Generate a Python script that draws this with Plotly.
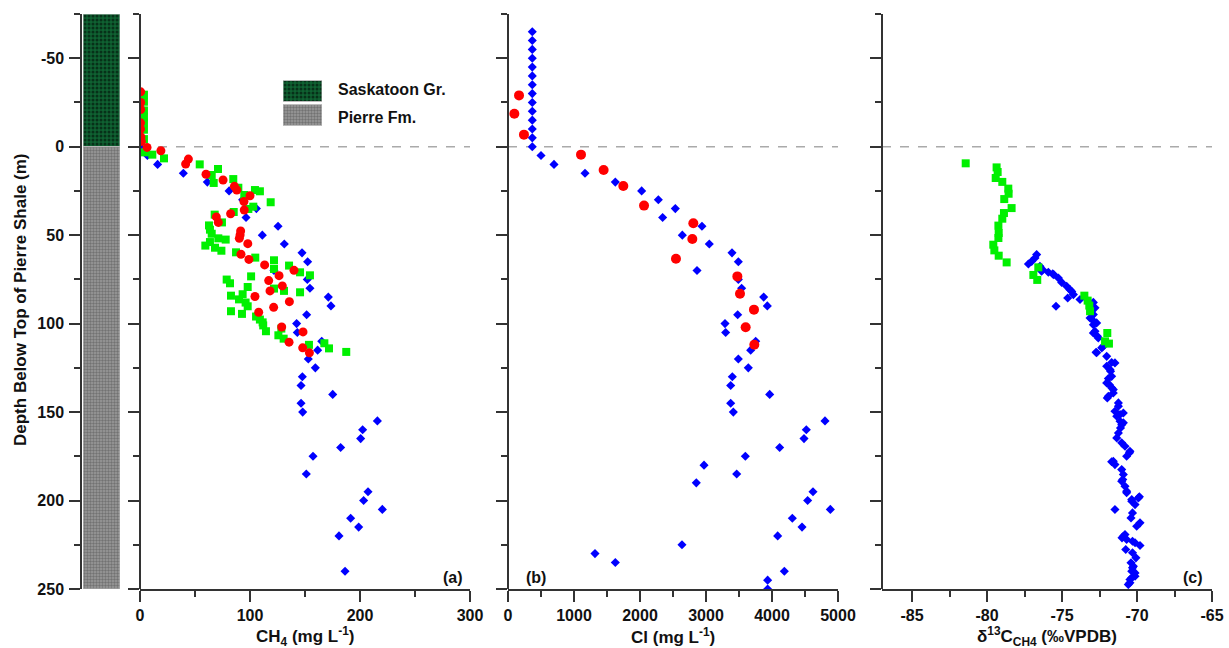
import plotly.graph_objects as go

W, H = 1229, 648
FONT = "Liberation Sans, Arial, sans-serif"

# ---------------- data ----------------
# Panel (a) CH4 (mg/L)
ch4_red_depth = [-31, -25, -21, -13.5, -10, -5.5, -3, 0.4, 2.3, 7, 9.8, 15.6, 18.8, 22.4, 24.5, 27.7, 31, 35.8,
                 37.9, 39.7, 42.8, 47.6, 49.9, 51.8, 54.8, 60.8, 63.7, 66.8, 69.9, 72.9, 75.7, 78.7, 81.5, 84.7,
                 87.6, 90.8, 93.6, 101.9, 104.7, 110.5, 113.7, 116.5]
ch4_red = [0.6, 0.6, 0.6, 0.5, 0.5, 0.8, 1.2, 6.4, 19, 44, 41.5, 60, 75.5, 85.8, 88, 100, 94.5, 94.8,
           82.4, 69.4, 71.2, 91.5, 91, 90.3, 98, 91.8, 99, 113.3, 140, 126.4, 117, 129.4, 118.2, 104.5,
           135.8, 121.5, 107.9, 128.8, 148.2, 135.5, 147.9, 154]

ch4_green_depth = [-29.4, -25.4, -20.5, -16.6, -13.7, -9.6, -4.3, 3.2, 4.5, 6.6, 10, 12.6, 16, 18.3, 20.5, 23.2,
                   24.5, 25.2, 27.3, 31.4, 33.9, 35.2, 36.9, 38.4, 42.8, 44.5, 46.9, 49.2, 51.8, 52.5, 53.9, 55.9,
                   57.1, 58.8, 59.7, 62.7, 64.2, 67.2, 69.1, 71, 72.7, 73.3, 75.1, 77.2, 79.3, 80.2, 81.5, 82.3,
                   83.4, 84.2, 86.3, 88.1, 90.2, 93, 94.5, 96, 97.7, 99.3, 101, 102.8, 104.3, 106.6, 108.5, 111.1,
                   112, 114, 116]
ch4_green = [3.6, 3.6, 3.6, 3.6, 3.6, 3.6, 3.6, 4.5, 11.2, 21.8, 54.3, 70.9, 65.2, 84.8, 67, 89.4,
             104.5, 109, 94.8, 118.8, 103, 98.5, 85.2, 67.9, 74.5, 62.7, 63.6, 65.2, 71.2, 77.9, 63.6, 59.4,
             68.2, 74, 87.3, 104.8, 121.8, 135.5, 121.8, 145.5, 154.5, 101, 78.8, 81.8, 97.9, 121.8, 130.9, 145.5,
             93.3, 82.7, 90, 96, 97.9, 82.7, 92.7, 105.5, 109, 111.5, 112, 128.5, 114.5, 125.8, 130.6, 167.6,
             153.6, 171.8, 187.5]

ch4_blue_depth = [-15, -5, 0, 5, 10, 15, 20, 25, 30, 35, 40, 45, 50, 55, 60, 65, 70, 75, 80, 85, 90, 95, 100,
                  105, 110, 115, 120, 125, 130, 135, 140, 145, 150, 155, 160, 165, 170, 175, 185, 195, 200, 205,
                  210, 215, 220, 240]
ch4_blue = [0.3, 0.3, 0, 6.7, 16, 39.4, 61.2, 81, 93.3, 105.8, 96.4, 125.5, 111.2, 131.2, 147.3, 152.4, 121.8,
            152.1, 154.5, 171.2, 173.6, 151.5, 142.4, 143, 165.2, 161.5, 153, 159.4, 147.6, 146.4, 175.2, 146.4,
            147.9, 215.8, 202.4, 200.6, 182.4, 157.3, 151.2, 207.3, 203.3, 220.3, 191.5, 198.8, 180.9, 186.4]

# Panel (b) Cl (mg/L)
cl_blue_depth = [-65, -60, -55, -50, -45, -40, -35, -30, -25, -20, -15, -10, -5, 0,
                 5, 10, 15, 20, 25, 30, 35, 40, 45, 50, 55, 60, 65, 70, 75, 80, 85, 90, 95, 100, 105, 110, 115,
                 120, 125, 130, 135, 140, 145, 150, 155, 160, 165, 170, 175, 180, 185, 190, 195, 200, 205, 210,
                 215, 220, 225, 230, 235, 240, 245, 250]
cl_blue = [368, 368, 368, 368, 368, 368, 368, 368, 368, 368, 368, 368, 368, 368,
           500, 697, 1167, 1626, 2025, 2278, 2535, 2343, 2939, 2641, 3050, 3394, 3490, 2864, 3490, 3540, 3874,
           3929, 3480, 3288, 3298, 3753, 3677, 3490, 3641, 3399, 3374, 3965, 3374, 3414, 4803, 4520, 4485, 4116,
           3596, 2970, 3465, 2853, 4621, 4540, 4884, 4308, 4455, 4086, 2636, 1318, 1626, 4187, 3934, 3934]

cl_red_depth = [-29, -18.6, -6.8, 4.5, 13.2, 22.2, 33.3, 43.3, 52.2, 63.3, 73.3, 83.1, 92.1, 102.1, 111.9]
cl_red = [167, 96, 242, 1106, 1449, 1747, 2061, 2808, 2793, 2545, 3475, 3515, 3727, 3601, 3732]

# Panel (c) d13C-CH4 (permil VPDB)
d13c_green_depth = [9.4, 11.7, 14.3, 17.7, 19.9, 23.7, 26.6, 29.6, 34.7, 37.5, 40.7, 44.6, 48.8, 51.6, 55.4,
                    58.6, 61.6, 65.4, 68.2, 72.5, 75.3, 84.2, 87, 89.8, 93, 105.3, 110, 111.3]
d13c_green = [-81.42, -79.36, -79.29, -79.42, -78.98, -78.58, -78.56, -78.85, -78.36, -78.87, -78.98, -79.24,
              -79.22, -79.24, -79.58, -79.51, -79.22, -78.69, -76.58, -76.91, -76.65, -73.51, -73.29, -73.18,
              -73.13, -71.98, -72.13, -71.87]

d13c_blue_depth = [61.0, 62.9, 64.8, 66.3, 67.6, 69.5, 70.4, 71.0, 71.9, 72.3, 74.2, 76.7, 78.9, 80.8, 81.8,
                   83.6, 85.5, 86.4, 87.4, 88.0, 90.2, 91.1, 94.9, 96.8, 97.7, 99.6, 100.6, 104.3, 105.3, 107.2,
                   108.1, 112.8, 113.7, 116.2, 116.5, 118.5, 122.0, 122.2, 124.1, 126.0, 126.9, 129.8, 131.0,
                   133.5, 134.5, 136.3, 137.3, 139.2, 141.1, 142.0, 144.8, 146.7, 149.5, 150.5, 151.4, 152.4,
                   155.2, 156.1, 157.1, 159.0, 161.8, 164.6, 167.4, 169.3, 172.1, 173.0, 175.0, 177.8, 178.1,
                   179.7, 182.5, 185.3, 188.1, 189.1, 191.9, 194.7, 195.6, 197.9, 198.5, 199.4, 200.4, 202.3,
                   205.1, 207.0, 209.8, 212.6, 214.5, 219.2, 220.2, 221.1, 222.0, 223.0, 223.9, 225.4, 227.7,
                   229.5, 232.4, 235.2, 237.1, 238.0, 239.9, 240.9, 242.8, 243.7, 244.6, 246.5, 247.5]
d13c_blue = [-76.69, -76.8, -77.02, -77.24, -76.47, -76.29, -76.36, -75.91, -75.62, -75.55, -75.24, -75.02,
             -74.69, -74.47, -74.35, -74.24, -74.62, -73.8, -73.24, -72.91, -75.4, -72.8, -72.91, -73.13, -73.0,
             -72.69, -72.91, -72.8, -72.91, -72.64, -72.58, -72.24, -72.35, -72.73, -72.69, -72.02, -71.69,
             -71.47, -72.02, -71.8, -71.76, -71.69, -71.91, -72.02, -71.84, -71.69, -71.58, -71.58, -71.91,
             -71.98, -71.24, -71.24, -71.47, -70.91, -71.13, -71.35, -71.13, -70.91, -71.02, -71.1, -71.24,
             -71.35, -71.02, -70.8, -70.47, -70.5, -70.69, -71.58, -71.69, -71.47, -71.02, -70.91, -70.95,
             -71.02, -70.8, -70.69, -70.69, -69.84, -69.91, -70.35, -70.35, -70.13, -71.47, -70.3, -70.4,
             -69.8, -70.02, -70.8, -70.91, -71.0, -70.69, -70.3, -70.13, -69.8, -70.75, -70.3, -70.07, -70.4,
             -70.24, -70.3, -70.35, -70.13, -70.13, -70.35, -70.47, -70.47, -70.58]

# Lithology
units = ["Saskatoon Gr.", "Pierre Fm."]
unit_top = [-75, 0]
unit_bottom = [0, 250]

# Tick labels
depth_ticks = [-50, 0, 50, 100, 150, 200, 250]
d13c_ticks = [-85, -80, -75, -70, -65]

# ---------------- styling ----------------
BLUE, RED, GREEN = "#0000FF", "#FF0000", "#00F000"
unit_styles = [
    dict(bgcolor="#0f6232", fgcolor="#000000", shape=".", size=4, solidity=0.45),
    dict(bgcolor="#9a9a9a", fgcolor="#4a4a4a", shape=".", size=3, solidity=0.5),
]

def px_x(p):
    return p / W

def px_y(p):
    return 1 - p / H

Y_DOM = [px_y(589), px_y(14)]
Y_RANGE = [250, -75]
AX_COLOR = "#333333"

fig = go.Figure()

# lithology column
for i, u in enumerate(units):
    fig.add_trace(go.Bar(
        x=[0], y=[unit_bottom[i] - unit_top[i]], base=[unit_top[i]], width=1,
        marker=dict(color=unit_styles[i]["bgcolor"], pattern=unit_styles[i],
                    line=dict(color="#bbbbbb", width=1)),
        xaxis="x", yaxis="y", showlegend=False, hoverinfo="skip"))

# legend boxes
for i, u in enumerate(units):
    fig.add_trace(go.Bar(
        x=[1], y=[i], orientation="h", width=0.875,
        marker=dict(color=unit_styles[i]["bgcolor"], pattern=unit_styles[i],
                    line=dict(color="#bbbbbb", width=1)),
        xaxis="x5", yaxis="y5", showlegend=False, hoverinfo="skip"))

def sc(x, y, color, symbol, size, xa, ya):
    fig.add_trace(go.Scatter(x=x, y=y, mode="markers", xaxis=xa, yaxis=ya, showlegend=False,
                             marker=dict(color=color, symbol=symbol, size=size, line=dict(width=0))))

sc(ch4_blue, ch4_blue_depth, BLUE, "diamond", 7, "x2", "y2")
sc(ch4_green, ch4_green_depth, GREEN, "square", 8, "x2", "y2")
sc(ch4_red, ch4_red_depth, RED, "circle", 9, "x2", "y2")

sc(cl_blue, cl_blue_depth, BLUE, "diamond", 7, "x3", "y3")
sc(cl_red, cl_red_depth, RED, "circle", 10, "x3", "y3")

sc(d13c_blue, d13c_blue_depth, BLUE, "diamond", 7, "x4", "y4")
sc(d13c_green, d13c_green_depth, GREEN, "square", 8, "x4", "y4")

tickfont = dict(family=FONT, size=16, color="#111111", weight="bold")
MINOR = dict(ticks="outside", ticklen=6, tickwidth=1.5, tickcolor=AX_COLOR)

def yax(pos, labels):
    return dict(domain=Y_DOM, range=Y_RANGE, anchor="free", position=pos, automargin=False,
                showline=True, linecolor=AX_COLOR, linewidth=1.5, showgrid=False, zeroline=False,
                ticks="outside", ticklen=11, tickwidth=1.5, tickcolor=AX_COLOR,
                tickmode="array", tickvals=depth_ticks, ticktext=[str(v) for v in depth_ticks],
                minor=dict(MINOR, dtick=25, tick0=-75),
                showticklabels=labels, tickfont=tickfont, ticklabelstandoff=2)

def xax(dom, rng, dtick, tick0, mdtick, yanchor, vals=None):
    d = dict(domain=dom, range=rng, anchor=yanchor, automargin=False,
             showline=True, linecolor=AX_COLOR, linewidth=1.5,
             showgrid=False, zeroline=False, ticks="outside", ticklen=11, tickwidth=1.5, tickcolor=AX_COLOR,
             dtick=dtick, tick0=tick0, minor=dict(MINOR, dtick=mdtick, tick0=tick0), tickfont=tickfont)
    if vals is not None:
        d.update(tickmode="array", tickvals=vals, ticktext=[str(v) for v in vals])
    return d

fig.update_layout(
    width=W, height=H, margin=dict(l=0, r=0, t=0, b=0, pad=0, autoexpand=False),
    paper_bgcolor="white", plot_bgcolor="rgba(0,0,0,0)", barmode="overlay", showlegend=False,
    xaxis=dict(domain=[px_x(83), px_x(120)], range=[-0.5, 0.5], visible=False, anchor="y", automargin=False),
    yaxis=yax(px_x(81), True),
    xaxis2=xax([px_x(140), px_x(470)], [0, 300], 100, 0, 50, "y2"),
    yaxis2=yax(px_x(140), False),
    xaxis3=xax([px_x(508), px_x(838)], [0, 5000], 1000, 0, 500, "y3"),
    yaxis3=yax(px_x(508), False),
    xaxis4=xax([px_x(882), px_x(1212)], [-87, -65], 5, -85, 2.5, "y4", d13c_ticks),
    yaxis4=yax(px_x(882), False),
    xaxis5=dict(domain=[px_x(283), px_x(322)], range=[0, 1], visible=False, anchor="y5", automargin=False),
    yaxis5=dict(domain=[px_y(127), px_y(79)], range=[1.5, -0.5], visible=False, anchor="x5", automargin=False),
)

# dashed lines at depth 0
for xa, ya in [("x2", "y2"), ("x3", "y3"), ("x4", "y4")]:
    fig.add_shape(type="line", xref=f"{xa} domain", yref=ya, x0=0, x1=1, y0=0, y1=0,
                  line=dict(color="#aaaaaa", width=1.5, dash="dash"), layer="below")

titlefont = dict(family=FONT, size=17, color="#111111", weight="bold")
ann = [
    (305, 636, "CH<sub>4</sub> (mg L<sup>-1</sup>)"),
    (673, 636, "Cl (mg L<sup>-1</sup>)"),
    (1047, 636, "δ<sup>13</sup>C<sub>CH4</sub> (‰VPDB)"),
]
for x, y, t in ann:
    fig.add_annotation(x=px_x(x), y=px_y(y), xref="paper", yref="paper", text=t, showarrow=False,
                       font=titlefont, xanchor="center", yanchor="middle")
fig.add_annotation(x=px_x(20), y=px_y(300), xref="paper", yref="paper",
                   text="Depth Below Top of Pierre Shale (m)", textangle=-90, showarrow=False,
                   font=titlefont, xanchor="center", yanchor="middle")

for x, t in [(453, "(a)"), (536, "(b)"), (1193, "(c)")]:
    fig.add_annotation(x=px_x(x), y=px_y(577), xref="paper", yref="paper", text=t, showarrow=False,
                       font=dict(family=FONT, size=16, color="#111111", weight="bold"),
                       xanchor="center", yanchor="middle")

for i, u in enumerate(units):
    fig.add_annotation(x=px_x(336), y=px_y(90 + 27 * i), xref="paper", yref="paper", text=u,
                       showarrow=False, xanchor="left", yanchor="middle",
                       font=dict(family=FONT, size=16, color="#111111", weight="bold"))

fig.write_html("out.html", config={"displayModeBar": False},
               post_script="document.body.style.margin='0px';document.body.style.overflow='hidden';")
